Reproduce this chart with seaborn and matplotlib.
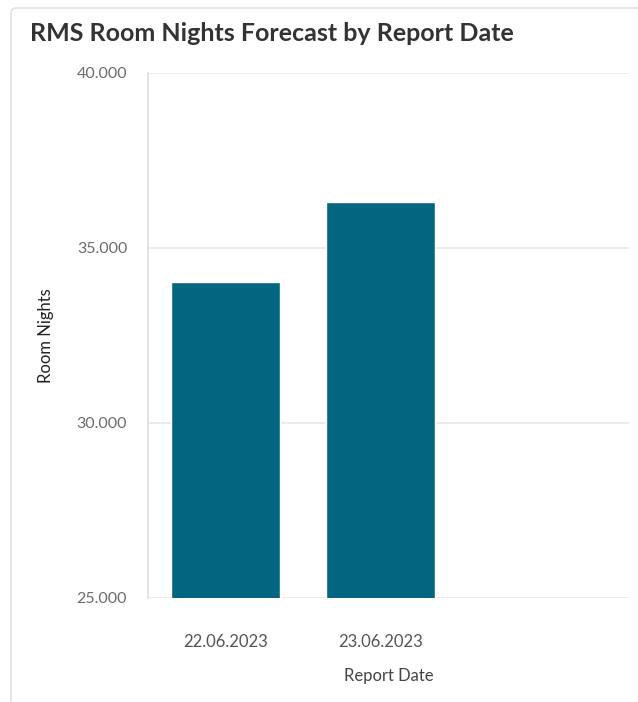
# RMS Room Nights Forecast by Report Date
# bar chart of forecast room nights per report date

import matplotlib.pyplot as plt
import seaborn as sns
import pandas as pd
from matplotlib.ticker import FuncFormatter
from matplotlib.patches import FancyBboxPatch

report_dates = ['22.06.2023', '23.06.2023']
room_nights = [34040, 36300]
y_ticks = [25000, 30000, 35000, 40000]

df = pd.DataFrame({'Report Date': report_dates, 'Room Nights': room_nights})

sns.set_theme(style='white')
plt.rcParams['font.family'] = ['Lato', 'DejaVu Sans']

fig = plt.figure(figsize=(6.38, 7.02), dpi=100)

# card border around the visual (kept behind the axes)
card = FancyBboxPatch((11 / 638, -0.05), 1.2, 1 - 8 / 702 + 0.05,
                      boxstyle='round,pad=0,rounding_size=0.008',
                      transform=fig.transFigure, facecolor='white',
                      edgecolor='#e1e1e1', linewidth=1.2, zorder=-5)
fig.patches.append(card)

ax = fig.add_axes([148 / 638, 1 - 598 / 702, 481 / 638, 525 / 702])
ax.set_facecolor('none')

sns.barplot(data=df, x='Report Date', y='Room Nights', color='#03657f',
            width=0.7, saturation=1, ax=ax)

ax.set_ylim(25000, 40000)
ax.set_xlim(-0.5, 2.6)
ax.set_yticks(y_ticks)
ax.yaxis.set_major_formatter(FuncFormatter(lambda v, p: f'{v:,.0f}'.replace(',', '.')))

ax.grid(axis='y', color='#e8e8e8', linewidth=1.2)
ax.set_axisbelow(True)
for s in ['top', 'right', 'bottom']:
    ax.spines[s].set_visible(False)
ax.spines['left'].set_color('#dedede')
ax.spines['left'].set_linewidth(1.2)

ax.tick_params(axis='y', length=9, width=1.2, color='#e3e3e3', pad=6,
               labelsize=11.5, labelcolor='#6b6b6b')
ax.tick_params(axis='x', length=0, pad=26, labelsize=12, labelcolor='#555555')

ax.set_xlabel('Report Date', fontsize=12, color='#444444')
ax.xaxis.set_label_coords(0.5, (598 - 668) / 525)
ax.set_ylabel('Room Nights', fontsize=12, color='#222222')
ax.yaxis.set_label_coords(-0.196, 0.5)

fig.text(30 / 638, 1 - 22 / 702, 'RMS Room Nights Forecast by Report Date',
         fontsize=18, fontweight='bold', color='#333333', va='top', ha='left')

fig.savefig('out.png', dpi=100)
